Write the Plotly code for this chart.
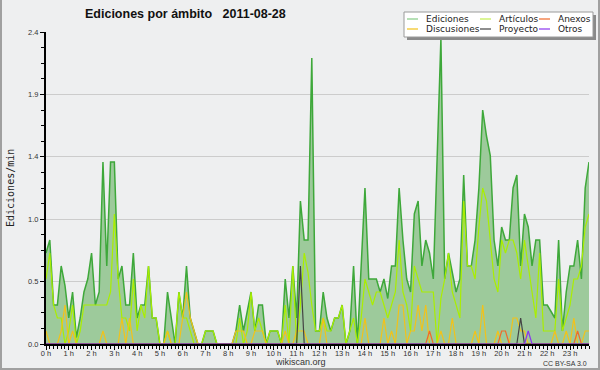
import plotly.graph_objects as go

# ---------------- data (10-minute intervals, edits per minute) ----------------
hour_labels = [f"{h} h" for h in range(24)]
minutes = list(range(0, 1440, 10))

ediciones = [
    0.7, 0.8, 0.3, 0.3, 0.6, 0.45, 0.2, 0.4, 0.05, 0.2, 0.4, 0.5,
    0.7, 0.3, 0.4, 1.4, 0.6, 1.4, 1.4, 0.5, 0.6, 0.3, 0.3, 0.7,
    0.2, 0.3, 0.3, 0.6, 0.2, 0.2, 0.0, 0.0, 0.4, 0.2, 0.0, 0.4,
    0.2, 0.6, 0.2, 0.1, 0.0, 0.0, 0.1, 0.1, 0.1, 0.0, 0.0, 0.0,
    0.0, 0.0, 0.1, 0.3, 0.1, 0.25, 0.4, 0.1, 0.3, 0.3, 0.0, 0.1,
    0.1, 0.1, 0.0, 0.5, 0.2, 0.6, 0.2, 1.1, 0.8, 0.8, 2.2, 0.1,
    0.1, 0.4, 0.2, 0.1, 0.2, 0.2, 0.3, 0.0, 0.1, 0.6, 0.0, 0.6,
    1.2, 0.5, 0.5, 0.5, 0.4, 0.5, 0.35, 0.6, 0.6, 1.2, 0.8, 0.5,
    0.4, 1.0, 1.1, 0.6, 0.8, 0.7, 0.5, 1.4, 2.35, 0.5, 0.7, 0.55,
    0.4, 0.5, 1.3, 0.6, 0.6, 0.8, 1.2, 1.8, 1.6, 1.45, 0.8, 0.6,
    0.9, 0.8, 0.8, 1.2, 1.3, 0.6, 1.0, 0.9, 0.6, 0.8, 0.8, 0.3,
    0.3, 0.25, 0.2, 0.8, 0.1, 0.4, 0.6, 0.6, 0.8, 0.5, 1.2, 1.4,
]

articulos = [
    0.5, 0.7, 0.3, 0.2, 0.2, 0.0, 0.1, 0.3, 0.0, 0.1, 0.3, 0.3,
    0.3, 0.3, 0.3, 0.3, 0.3, 0.4, 1.0, 0.5, 0.2, 0.2, 0.1, 0.5,
    0.1, 0.3, 0.2, 0.6, 0.2, 0.2, 0.0, 0.0, 0.1, 0.0, 0.0, 0.4,
    0.2, 0.2, 0.1, 0.0, 0.0, 0.0, 0.1, 0.1, 0.1, 0.0, 0.0, 0.0,
    0.0, 0.0, 0.0, 0.2, 0.0, 0.1, 0.4, 0.1, 0.2, 0.1, 0.0, 0.1,
    0.1, 0.1, 0.0, 0.3, 0.0, 0.6, 0.0, 0.3, 0.7, 0.55, 0.3, 0.1,
    0.1, 0.2, 0.1, 0.1, 0.2, 0.2, 0.3, 0.0, 0.1, 0.2, 0.0, 0.2,
    0.5, 0.4, 0.3, 0.4, 0.4, 0.3, 0.2, 0.3, 0.4, 0.8, 0.4, 0.3,
    0.1, 0.6, 0.5, 0.4, 0.4, 0.4, 0.4, 0.0, 0.35, 0.5, 0.7, 0.4,
    0.3, 0.2, 1.1, 0.6, 0.6, 0.5, 0.9, 1.2, 1.1, 0.8, 0.5, 0.4,
    0.8, 0.7, 0.8, 0.8, 0.7, 0.5, 0.8, 0.6, 0.4, 0.2, 0.7, 0.1,
    0.1, 0.1, 0.1, 0.5, 0.1, 0.2, 0.3, 0.5, 0.5, 0.6, 0.9, 1.0,
]

discusiones = [
    0.1, 0.0, 0.0, 0.0, 0.1, 0.3, 0.0, 0.1, 0.0, 0.0, 0.0, 0.0,
    0.0, 0.0, 0.0, 0.1, 0.0, 0.0, 0.0, 0.0, 0.2, 0.0, 0.2, 0.0,
    0.0, 0.0, 0.0, 0.0, 0.0, 0.0, 0.0, 0.0, 0.1, 0.0, 0.0, 0.0,
    0.2, 0.4, 0.2, 0.1, 0.0, 0.0, 0.0, 0.0, 0.0, 0.0, 0.0, 0.0,
    0.0, 0.0, 0.1, 0.1, 0.1, 0.0, 0.0, 0.1, 0.1, 0.1, 0.0, 0.0,
    0.0, 0.0, 0.0, 0.1, 0.0, 0.0, 0.1, 0.1, 0.1, 0.0, 0.0, 0.0,
    0.0, 0.2, 0.0, 0.0, 0.0, 0.0, 0.0, 0.0, 0.0, 0.0, 0.0, 0.0,
    0.2, 0.0, 0.0, 0.0, 0.0, 0.2, 0.0, 0.1, 0.0, 0.3, 0.3, 0.0,
    0.1, 0.1, 0.3, 0.1, 0.3, 0.0, 0.0, 0.0, 0.1, 0.0, 0.0, 0.2,
    0.0, 0.0, 0.0, 0.0, 0.0, 0.1, 0.0, 0.3, 0.0, 0.0, 0.0, 0.1,
    0.0, 0.0, 0.0, 0.2, 0.2, 0.1, 0.1, 0.0, 0.0, 0.0, 0.0, 0.0,
    0.0, 0.0, 0.1, 0.0, 0.0, 0.1, 0.0, 0.2, 0.0, 0.0, 0.1, 0.1,
]

anexos = [0.0] * 12 * 8 + [
    0.0, 0.0, 0.0, 0.0, 0.0, 0.1, 0.0, 0.0, 0.0, 0.0, 0.0, 0.0,
    0.0, 0.0, 0.0, 0.0, 0.0, 0.0, 0.0, 0.0, 0.0, 0.0, 0.0, 0.0,
    0.1, 0.1, 0.0, 0.0, 0.0, 0.0, 0.0, 0.0, 0.0, 0.0, 0.0, 0.0,
    0.0, 0.0, 0.0, 0.0, 0.0, 0.0, 0.0, 0.0, 0.1, 0.0, 0.0, 0.0,
]

proyecto = [0.0] * 12 * 5 + [
    0.0, 0.0, 0.0, 0.0, 0.0, 0.0, 0.0, 0.6, 0.0, 0.0, 0.0, 0.0,
] + [0.0] * 12 * 3 + [
    0.0, 0.0, 0.0, 0.0, 0.0, 0.0, 0.0, 0.0, 0.0, 0.0, 0.0, 0.0,
    0.0, 0.0, 0.0, 0.0, 0.0, 0.2, 0.0, 0.0, 0.0, 0.0, 0.0, 0.0,
    0.0, 0.0, 0.0, 0.0, 0.0, 0.0, 0.0, 0.0, 0.0, 0.0, 0.0, 0.0,
    0.0, 0.0, 0.0, 0.0, 0.0, 0.0, 0.1, 0.0, 0.0, 0.0, 0.0, 0.0,
]

otros = [0.0] * 12 * 10 + [
    0.0, 0.0, 0.0, 0.0, 0.0, 0.0, 0.0, 0.1, 0.0, 0.0, 0.0, 0.0,
    0.0, 0.0, 0.0, 0.0, 0.0, 0.0, 0.0, 0.0, 0.0, 0.0, 0.0, 0.0,
]

y_tickvals = [0.0, 0.48, 0.96, 1.44, 1.92, 2.4]
y_ticktext = ["0.0", "0.5", "1.0", "1.4", "1.9", "2.4"]

series_names = ["Ediciones", "Artículos", "Anexos", "Discusiones", "Proyecto", "Otros"]

# ---------------- styles ----------------
C_EDI = "#3ea83a"
C_EDI_FILL = "#9dca9b"
C_EDI_LEG = "#86cc86"
C_ART = "#aaee00"
C_ART_LEG = "#c4ee50"
C_ANX = "#f06a2a"
C_DIS = "#f2c21a"
C_PRO = "#444444"
C_OTR = "#8a36ee"
BG = "#eeeff0"

W, H = 600, 370
ML, MR, MT, MB = 46, 11, 32, 26
PW, PH = W - ML - MR, H - MT - MB


def fx(px):
    return (px - ML) / PW


def fy(py):
    return (H - MB - py) / PH


fig = go.Figure()
fig.add_trace(go.Scatter(x=minutes, y=ediciones, name="Ediciones", mode="lines",
                         line=dict(color=C_EDI, width=1.5), fill="tozeroy",
                         fillcolor=C_EDI_FILL, showlegend=False))
fig.add_trace(go.Scatter(x=minutes, y=articulos, name="Artículos", mode="lines",
                         line=dict(color=C_ART, width=1.2), showlegend=False))
fig.add_trace(go.Scatter(x=minutes, y=discusiones, name="Discusiones", mode="lines",
                         line=dict(color=C_DIS, width=1.2), showlegend=False))
fig.add_trace(go.Scatter(x=minutes, y=anexos, name="Anexos", mode="lines",
                         line=dict(color=C_ANX, width=1.2), showlegend=False))
fig.add_trace(go.Scatter(x=minutes, y=proyecto, name="Proyecto", mode="lines",
                         line=dict(color=C_PRO, width=1.2), showlegend=False))
fig.add_trace(go.Scatter(x=minutes, y=otros, name="Otros", mode="lines",
                         line=dict(color=C_OTR, width=1.2), showlegend=False))

tick_font = dict(family="Liberation Sans", size=7.5, color="#333333")

fig.update_xaxes(
    range=[0, 1430], tickmode="array", tickvals=[h * 60 for h in range(24)],
    ticktext=hour_labels, ticks="outside", ticklen=4, tickwidth=1, tickcolor="#000",
    showline=True, linecolor="#000", linewidth=2, showgrid=False, zeroline=False,
    tickfont=tick_font, ticklabelstandoff=-3,
    minor=dict(dtick=10, tick0=0, ticks="outside", ticklen=3, tickcolor="#000",
               tickwidth=1, showgrid=False),
)
fig.update_yaxes(
    range=[0, 2.4], tickmode="array", tickvals=y_tickvals, ticktext=y_ticktext,
    ticks="outside", ticklen=4, tickwidth=1, tickcolor="#000",
    showline=True, linecolor="#000", linewidth=2, showgrid=True,
    gridcolor="#cccccc", gridwidth=1, zeroline=False, tickfont=tick_font,
    minor=dict(dtick=0.12, tick0=0, ticks="outside", ticklen=3, tickcolor="#000",
               tickwidth=1, showgrid=False),
)

shapes = [
    # outer frame
    dict(type="rect", xref="paper", yref="paper", x0=fx(1), x1=fx(599),
         y0=fy(369), y1=fy(-5), line=dict(color="#a0a0a0", width=2),
         fillcolor="rgba(0,0,0,0)", layer="above"),
    # legend shadow + box
    dict(type="rect", xref="paper", yref="paper", x0=fx(407), x1=fx(596),
         y0=fy(40), y1=fy(15), line=dict(width=0), fillcolor="#8a8a8a", layer="above"),
    dict(type="rect", xref="paper", yref="paper", x0=fx(404), x1=fx(593),
         y0=fy(37), y1=fy(12), line=dict(color="#9a9a9a", width=1),
         fillcolor="#ffffff", layer="above"),
]

leg_colors = [C_EDI_LEG, C_ART_LEG, C_ANX, C_DIS, C_PRO, C_OTR]
sw_x = [407, 480, 539]
tx_x = [424, 497, 556]
row_y = [19, 29]
annotations = []
for k, name in enumerate(series_names):
    r, c = divmod(k, 3)
    shapes.append(dict(type="line", xref="paper", yref="paper",
                       x0=fx(sw_x[c]), x1=fx(sw_x[c] + 11), y0=fy(row_y[r]), y1=fy(row_y[r]),
                       line=dict(color=leg_colors[k], width=1.2), layer="above"))
    annotations.append(dict(text=name, xref="paper", yref="paper", x=fx(tx_x[c]),
                            y=fy(row_y[r]), xanchor="left", yanchor="middle",
                            showarrow=False,
                            font=dict(family="DejaVu Sans", size=9, color="#222")))

annotations += [
    dict(text="Ediciones/min", xref="paper", yref="paper", x=fx(10), y=0.5,
         textangle=-90, showarrow=False, xanchor="center", yanchor="middle",
         font=dict(family="DejaVu Sans Mono", size=10, color="#222")),
    dict(text="wikiscan.org", xref="paper", yref="paper", x=fx(300), y=fy(362),
         showarrow=False, xanchor="center", yanchor="middle",
         font=dict(family="Liberation Sans", size=9, color="#333")),
    dict(text="CC BY-SA 3.0", xref="paper", yref="paper", x=fx(589), y=fy(363),
         showarrow=False, xanchor="right", yanchor="middle",
         font=dict(family="Liberation Sans", size=7, color="#333")),
]

fig.update_layout(
    width=W, height=H, autosize=False,
    margin=dict(l=ML, r=MR, t=MT, b=MB, pad=0),
    paper_bgcolor=BG, plot_bgcolor=BG,
    title=dict(text="<b>Ediciones por ámbito\u00a0\u00a0\u00a02011-08-28</b>",
               x=85 / W, xanchor="left", xref="container",
               y=1 - 14 / H, yanchor="middle", yref="container",
               font=dict(family="Liberation Sans", size=12.5, color="#111")),
    shapes=shapes, annotations=annotations, showlegend=False,
)

fig.write_html(
    "out.html",
    config={"displayModeBar": False},
    post_script="document.body.style.margin='0';document.body.style.overflow='hidden';",
)
